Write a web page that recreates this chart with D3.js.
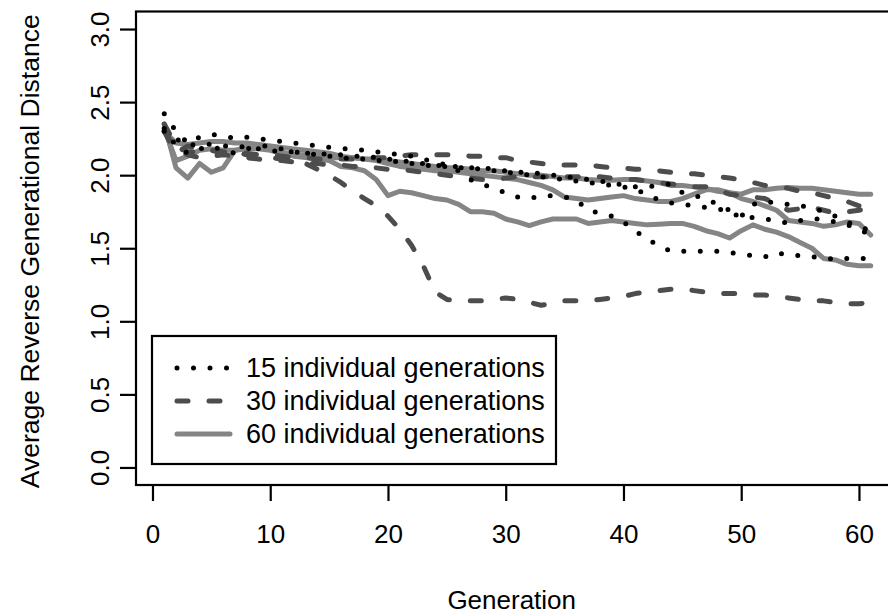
<!DOCTYPE html>
<html><head><meta charset="utf-8">
<script src="https://cdn.jsdelivr.net/npm/d3@7/dist/d3.min.js"></script>
<style>body{margin:0;background:#fff}svg{display:block}text{font-family:"Liberation Sans",Arial,Helvetica,sans-serif;fill:#000}</style>
</head><body><svg id="c" width="888" height="614"></svg>
<script>
const generations = [1,2,3,4,5,6,7,8,9,10,11,12,13,14,15,16,17,18,19,20,21,22,23,24,25,26,27,28,29,30,31,32,33,34,35,36,37,38,39,40,41,42,43,44,45,46,47,48,49,50,51,52,53,54,55,56,57,58,59,60,61];
const xTicks = [0,10,20,30,40,50,60];
const yTicks = [0,0.5,1,1.5,2,2.5,3];
const yTickLabels = ["0.0","0.5","1.0","1.5","2.0","2.5","3.0"];
const legendLabels = ["15 individual generations","30 individual generations","60 individual generations"];

// 60 individual generations (solid gray)
const solid1 = [2.35,2.05,1.98,2.08,2.02,2.05,2.17,2.19,2.19,2.18,
 2.16,2.13,2.12,2.11,2.10,2.06,2.05,2.03,1.97,1.86,
 1.89,1.88,1.86,1.84,1.83,1.80,1.75,1.75,1.74,1.70,
 1.68,1.655,1.68,1.70,1.70,1.70,1.67,1.68,1.69,1.68,
 1.67,1.66,1.665,1.67,1.67,1.65,1.62,1.60,1.57,1.62,
 1.66,1.63,1.61,1.58,1.54,1.50,1.43,1.42,1.39,1.38,1.38];
const solid2 = [2.30,2.22,2.21,2.22,2.23,2.23,2.22,2.22,2.21,2.20,
 2.19,2.18,2.17,2.16,2.15,2.13,2.12,2.11,2.11,2.10,
 2.09,2.08,2.07,2.06,2.05,2.05,2.04,2.03,2.03,2.02,
 2.01,2.00,2.00,1.99,1.98,1.98,1.97,1.965,1.965,1.97,
 1.97,1.96,1.95,1.93,1.93,1.92,1.91,1.89,1.88,1.87,
 1.90,1.90,1.91,1.915,1.91,1.91,1.90,1.89,1.88,1.87,1.87];
const solid3 = [2.32,2.10,2.13,2.17,2.18,2.17,2.17,2.18,2.18,2.17,
 2.15,2.14,2.14,2.13,2.12,2.12,2.12,2.11,2.10,2.08,
 2.06,2.05,2.04,2.03,2.03,2.02,2.01,2.00,1.99,1.98,
 1.97,1.95,1.93,1.90,1.85,1.84,1.83,1.84,1.85,1.86,
 1.84,1.83,1.82,1.82,1.84,1.87,1.90,1.90,1.88,1.84,
 1.82,1.79,1.76,1.69,1.68,1.67,1.65,1.66,1.68,1.67,1.59];
// 30 individual generations (dashed dark gray)
const dashed1 = [2.30,2.15,2.20,2.18,2.17,2.15,2.16,2.14,2.13,2.12,
 2.11,2.10,2.08,2.04,2.00,1.95,1.89,1.84,1.79,1.72,
 1.63,1.52,1.38,1.20,1.15,1.14,1.14,1.14,1.15,1.16,
 1.15,1.13,1.11,1.12,1.14,1.14,1.14,1.15,1.16,1.17,
 1.19,1.20,1.21,1.22,1.22,1.21,1.20,1.19,1.19,1.19,
 1.18,1.18,1.17,1.16,1.15,1.14,1.14,1.13,1.12,1.12,1.13];
const dashed2 = [2.35,2.20,2.16,2.16,2.17,2.16,2.15,2.15,2.14,2.14,
 2.13,2.12,2.12,2.11,2.11,2.11,2.11,2.11,2.12,2.12,
 2.13,2.14,2.14,2.14,2.14,2.14,2.13,2.13,2.12,2.12,
 2.10,2.09,2.08,2.07,2.07,2.07,2.07,2.06,2.05,2.05,
 2.04,2.04,2.03,2.02,2.01,2.01,2.00,1.99,1.98,1.97,
 1.95,1.93,1.92,1.91,1.89,1.88,1.86,1.84,1.82,1.79,1.77];
const dashed3 = [2.30,2.18,2.14,2.12,2.13,2.14,2.13,2.12,2.11,2.10,
 2.10,2.09,2.08,2.08,2.07,2.07,2.06,2.06,2.05,2.04,
 2.04,2.03,2.02,2.01,2.00,1.99,1.98,1.97,1.97,1.98,
 1.99,1.99,1.99,1.99,1.99,1.99,1.99,1.99,1.98,1.97,
 1.97,1.96,1.95,1.94,1.93,1.92,1.92,1.90,1.87,1.86,
 1.85,1.84,1.80,1.76,1.77,1.78,1.76,1.74,1.75,1.76,1.77];
// 15 individual generations (dotted black)
const dotted1 = [2.42,2.30,2.22,2.26,2.28,2.27,2.25,2.26,2.25,2.24,
 2.23,2.22,2.21,2.20,2.19,2.18,2.18,2.17,2.16,2.15,
 2.14,2.13,2.11,2.09,2.07,2.03,1.97,1.94,1.91,1.88,
 1.85,1.84,1.86,1.86,1.85,1.83,1.76,1.74,1.72,1.68,
 1.62,1.56,1.52,1.48,1.48,1.48,1.48,1.48,1.47,1.46,
 1.45,1.44,1.47,1.45,1.45,1.44,1.44,1.42,1.43,1.43,1.43];
const dotted2 = [2.32,2.20,2.15,2.18,2.20,2.17,2.15,2.18,2.20,2.20,
 2.18,2.16,2.15,2.14,2.13,2.12,2.11,2.11,2.10,2.10,
 2.09,2.08,2.07,2.06,2.06,2.05,2.05,2.04,2.03,2.02,
 2.01,2.00,1.99,1.98,1.97,1.96,1.95,1.94,1.93,1.92,
 1.90,1.87,1.83,1.81,1.80,1.79,1.78,1.77,1.75,1.71,
 1.71,1.70,1.69,1.67,1.69,1.70,1.70,1.68,1.66,1.63,1.59];
const dotted3 = [2.30,2.25,2.20,2.22,2.21,2.20,2.20,2.19,2.18,2.17,
 2.16,2.16,2.15,2.15,2.14,2.14,2.13,2.13,2.12,2.11,
 2.10,2.09,2.08,2.07,2.06,2.06,2.05,2.05,2.04,2.03,
 2.02,2.02,2.01,2.00,1.99,1.98,1.97,1.96,1.95,1.93,
 1.92,1.92,1.93,1.94,1.88,1.86,1.84,1.80,1.76,1.72,
 1.80,1.82,1.81,1.80,1.79,1.78,1.75,1.72,1.68,1.65,1.62];

const styles = {
  dotted: {stroke:"#000", width:5, dash:"0,16.5", cap:"round"},
  dashed: {stroke:"#4d4d4d", width:5, dash:"11,21", cap:"round"},
  solid:  {stroke:"#858585", width:5, dash:null, cap:"round"}
};
const series = [
  {values:solid1, s:"solid"},{values:solid2, s:"solid"},{values:solid3, s:"solid"},
  {values:dashed1, s:"dashed"},{values:dashed2, s:"dashed"},{values:dashed3, s:"dashed"},
  {values:dotted1, s:"dotted"},{values:dotted2, s:"dotted"},{values:dotted3, s:"dotted"}
];

const svg = d3.select("#c");
const L = 136, R = 899, T = 11.5, B = 485;
const x = d3.scaleLinear().domain([-1.4, 63.4]).range([L, R]);
const y = d3.scaleLinear().domain([-0.12, 3.12]).range([B, T]);

const line = d3.line().x((d,i)=>x(generations[i])).y(d=>y(d));
series.forEach(sr => {
  const st = styles[sr.s];
  svg.append("path").datum(sr.values).attr("d", line)
    .attr("fill","none").attr("stroke",st.stroke).attr("stroke-width",st.width)
    .attr("stroke-linecap",st.cap).attr("stroke-linejoin","round")
    .attr("stroke-dasharray",st.dash);
});

// box
svg.append("rect").attr("x",L).attr("y",T).attr("width",R-L).attr("height",B-T)
  .attr("fill","none").attr("stroke","#000").attr("stroke-width",2.2);

// x axis
const xa = svg.append("g").attr("transform",`translate(0,${B})`)
  .call(d3.axisBottom(x).tickValues(xTicks).tickSize(16).tickPadding(24).tickFormat(d3.format("d")));
xa.select(".domain").remove();
xa.selectAll("line").attr("stroke","#000").attr("stroke-width",2.2);
xa.selectAll("text").attr("font-size",26).attr("font-family",null).attr("fill","#000");

// y axis
const ya = svg.append("g").attr("transform",`translate(${L},0)`)
  .call(d3.axisLeft(y).tickValues(yTicks).tickSize(16).tickFormat((d,i)=>yTickLabels[i]));
ya.select(".domain").remove();
ya.selectAll("line").attr("stroke","#000").attr("stroke-width",2.2);
ya.selectAll("text").attr("font-size",26).attr("font-family",null).attr("fill","#000")
  .attr("x",null).attr("dy",null).attr("text-anchor","middle")
  .attr("transform","translate(-36,0) rotate(-90)").attr("dominant-baseline","central");

// axis titles
svg.append("text").attr("x",(x(0)+x(60))/2 + 6).attr("y",609).attr("text-anchor","middle")
  .attr("font-size",26).text("Generation");
svg.append("text").attr("transform",`translate(39,${(y(0)+y(3))/2 + 3}) rotate(-90)`)
  .attr("text-anchor","middle").attr("font-size",26.5).text("Average Reverse Generational Distance");

// legend
const lg = svg.append("g");
lg.append("rect").attr("x",152).attr("y",336).attr("width",404).attr("height",128)
  .attr("fill","#fff").attr("stroke","#000").attr("stroke-width",2.2);
const legendStyles = ["dotted","dashed","solid"];
legendLabels.forEach((lab,i)=>{
  const yy = 368 + i*33;
  const st = styles[legendStyles[i]];
  lg.append("line").attr("x1",177).attr("x2",230).attr("y1",yy).attr("y2",yy)
    .attr("stroke",st.stroke).attr("stroke-width",st.width).attr("stroke-linecap",st.cap)
    .attr("stroke-dasharray",st.dash);
  lg.append("text").attr("x",246).attr("y",yy).attr("dy","0.35em").attr("font-size",27).text(lab);
});
</script></body></html>
